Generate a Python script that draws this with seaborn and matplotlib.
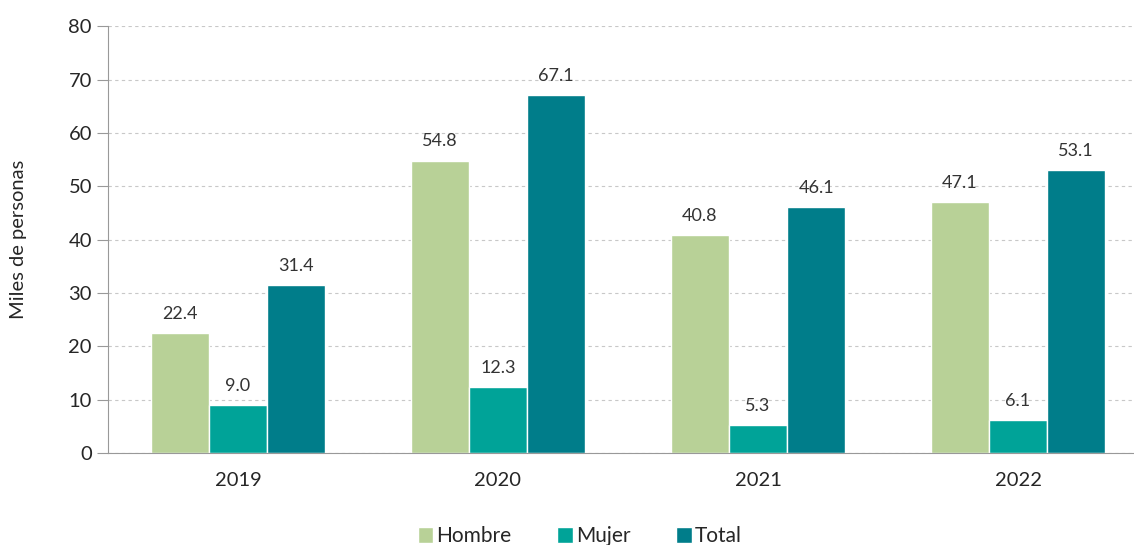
import pandas as pd
import seaborn as sns
import matplotlib.pyplot as plt

# data
years = ["2019", "2020", "2021", "2022"]
hombre = [22.4, 54.8, 40.8, 47.1]
mujer = [9.0, 12.3, 5.3, 6.1]
total = [31.4, 67.1, 46.1, 53.1]
series = ["Hombre", "Mujer", "Total"]
colors = ["#B8D197", "#00A398", "#007D8A"]

df = pd.DataFrame({"year": years * 3,
                   "valor": hombre + mujer + total,
                   "serie": [s for s in series for _ in years]})

sns.set_style("white")
plt.rcParams['font.family'] = ['Lato', 'DejaVu Sans']

fig = plt.figure(figsize=(11.34, 5.45), dpi=100)
ax = fig.add_axes([0.0952, 0.169, 0.9048, 0.783])

sns.barplot(data=df, x="year", y="valor", hue="serie", palette=colors,
            width=0.67, saturation=1, ax=ax, legend=True)

for cont in ax.containers:
    ax.bar_label(cont, fmt="%.1f", padding=8, fontsize=13, color="#333333")

ax.set_ylim(0, 80)
ax.set_xlim(-0.5, 3.446)
ax.set_yticks(range(0, 81, 10))
ax.yaxis.grid(True, linestyle=(0, (3, 3)), color="#C8C8C8", linewidth=0.8)
ax.set_axisbelow(True)
ax.tick_params(axis="y", length=8, color="#999999", labelsize=14.5, left=True)
ax.tick_params(axis="x", length=0, labelsize=14.5, pad=14)
ax.set_xlabel("")
ax.set_ylabel("Miles de personas", fontsize=14.5, labelpad=30)
for s in ["top", "right"]:
    ax.spines[s].set_visible(False)
for s in ["left", "bottom"]:
    ax.spines[s].set_color("#999999")

ax.legend(loc="upper center", bbox_to_anchor=(0.46, -0.128), ncol=3, frameon=False,
          fontsize=15, handlelength=0.75, handleheight=0.75, handletextpad=0.15,
          columnspacing=2.2)

fig.savefig("out.png", dpi=100)
